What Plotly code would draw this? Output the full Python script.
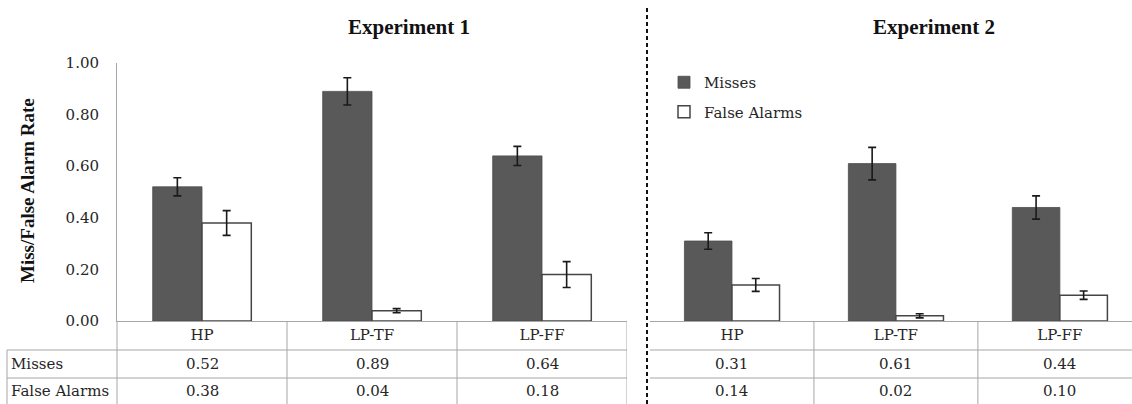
import plotly.graph_objects as go

# ---------------- data ----------------
categories = ["HP", "LP-TF", "LP-FF"]
exp1_misses = [0.52, 0.89, 0.64]
exp1_false_alarms = [0.38, 0.04, 0.18]
exp2_misses = [0.31, 0.61, 0.44]
exp2_false_alarms = [0.14, 0.02, 0.10]
exp1_misses_err = [0.035, 0.053, 0.037]
exp1_false_alarms_err = [0.048, 0.008, 0.050]
exp2_misses_err = [0.032, 0.063, 0.045]
exp2_false_alarms_err = [0.025, 0.008, 0.016]
row_labels = ["Misses", "False Alarms"]
panel_titles = ["Experiment 1", "Experiment 2"]
y_ticks = [0.0, 0.2, 0.4, 0.6, 0.8, 1.0]

W, H = 1132, 404
def px(x):
    return x / W
def py(y):
    return (H - y) / H

SERIF = "DejaVu Serif"
TITLE_FONT = "Liberation Serif"
TXT = "#262626"
GRID = "#a6a6a6"
MISS_COL = "#595959"
EDGE = "#454545"

fig = go.Figure()

def add_bars(xaxis, misses, fa, merr, faerr, show):
    fig.add_trace(go.Bar(
        x=categories, y=misses, name="Misses", xaxis=xaxis, yaxis="y",
        marker=dict(color=MISS_COL, line=dict(color="#4d4d4d", width=0.8)),
        error_y=dict(type="data", array=merr, color="#1a1a1a", thickness=1.6, width=4),
        legendgroup="m", showlegend=show))
    fig.add_trace(go.Bar(
        x=categories, y=fa, name="False Alarms", xaxis=xaxis, yaxis="y",
        marker=dict(color="white", line=dict(color=EDGE, width=1.5)),
        error_y=dict(type="data", array=faerr, color="#1a1a1a", thickness=1.6, width=4),
        legendgroup="fa", showlegend=show))

add_bars("x", exp1_misses, exp1_false_alarms, exp1_misses_err, exp1_false_alarms_err, True)
add_bars("x2", exp2_misses, exp2_false_alarms, exp2_misses_err, exp2_false_alarms_err, False)

y_bot, y_top = py(321), py(63)

axis_common = dict(
    type="category", showline=True, linecolor=GRID, linewidth=1, ticks="",
    showgrid=False, zeroline=False, automargin=False,
    tickfont=dict(family=SERIF, size=15, color=TXT), fixedrange=True)

fig.update_layout(
    template="none",
    width=W, height=H, margin=dict(l=0, r=0, t=0, b=0, pad=0, autoexpand=False),
    paper_bgcolor="white", plot_bgcolor="white",
    barmode="group", bargap=0.42, bargroupgap=0,
    xaxis=dict(domain=[px(117), px(627)], range=[-0.5, 2.5], anchor="y", **axis_common),
    xaxis2=dict(domain=[px(650), 1.0], range=[-0.5, 2.44], anchor="y", **axis_common),
    yaxis=dict(domain=[y_bot, y_top], range=[0, 1.0], tickvals=y_ticks,
               ticktext=[f"{v:.2f}" for v in y_ticks], showline=True, linecolor=GRID,
               linewidth=1, ticks="", showgrid=False, zeroline=False, anchor="x",
               ticklabelstandoff=14, automargin=False,
               tickfont=dict(family=SERIF, size=15, color=TXT)),
    legend=dict(x=px(664), y=py(66), xanchor="left", yanchor="top",
                font=dict(family=SERIF, size=15, color=TXT),
                traceorder="grouped", tracegroupgap=7, bgcolor="rgba(0,0,0,0)",
                borderwidth=0),
    showlegend=True,
)

shapes = []
line = dict(color=GRID, width=1)
# table horizontal rules
for yy in (350, 378):
    shapes.append(dict(type="line", xref="paper", yref="paper", x0=px(7), x1=px(627),
                       y0=py(yy), y1=py(yy), line=line))
    shapes.append(dict(type="line", xref="paper", yref="paper", x0=px(650), x1=1.0,
                       y0=py(yy), y1=py(yy), line=line))
# row-label column borders
shapes.append(dict(type="line", xref="paper", yref="paper", x0=px(7), x1=px(7),
                   y0=0, y1=py(350), line=line))
shapes.append(dict(type="line", xref="paper", yref="paper", x0=px(117), x1=px(117),
                   y0=0, y1=y_bot, line=line))
# category dividers in the table
for xr in ("x", "x2"):
    bounds = [0.5, 1.5] + ([2.5] if xr == "x" else [])
    for b in bounds:
        shapes.append(dict(type="line", xref=xr, yref="paper", x0=b, x1=b,
                           y0=0, y1=y_bot, line=line))
# dashed separator
shapes.append(dict(type="line", xref="paper", yref="paper", x0=px(647), x1=px(647),
                   y0=0, y1=py(8), line=dict(color="#111111", width=2, dash="4px,3px")))
fig.update_layout(shapes=shapes)

ann = []
def A(**kw):
    kw.setdefault("showarrow", False)
    kw.setdefault("yanchor", "middle")
    kw.setdefault("xanchor", "center")
    ann.append(kw)

# panel titles
for t, cx in zip(panel_titles, (409, 934)):
    A(text=f"<b>{t}</b>", x=px(cx), y=py(27), xref="paper", yref="paper",
      font=dict(family=TITLE_FONT, size=21, color="#111111"))
# y-axis title
A(text="<b>Miss/False Alarm Rate</b>", x=px(27), y=py(191), xref="paper",
  yref="paper", textangle=-90, font=dict(family=TITLE_FONT, size=19, color="#111111"))
# row labels
for lbl, yy in zip(row_labels, (364, 391)):
    A(text=lbl, x=px(9), y=py(yy), xref="paper", yref="paper", xanchor="left",
      font=dict(family=SERIF, size=15, color=TXT))
# table values
for xr, rows in (("x", (exp1_misses, exp1_false_alarms)), ("x2", (exp2_misses, exp2_false_alarms))):
    for vals, yy in zip(rows, (364, 391)):
        for c, v in zip(categories, vals):
            A(text=f"{v:.2f}", x=c, y=py(yy), xref=xr, yref="paper",
              font=dict(family=SERIF, size=15, color=TXT))
fig.update_layout(annotations=ann)

post = ("document.documentElement.style.margin='0';"
        "document.body.style.margin='0';document.body.style.overflow='hidden';"
        "var d=document.getElementById('{plot_id}');"
        "d.style.position='fixed';d.style.left='0px';d.style.top='0px';")
fig.write_html("out.html", config={"displayModeBar": False}, post_script=post)
